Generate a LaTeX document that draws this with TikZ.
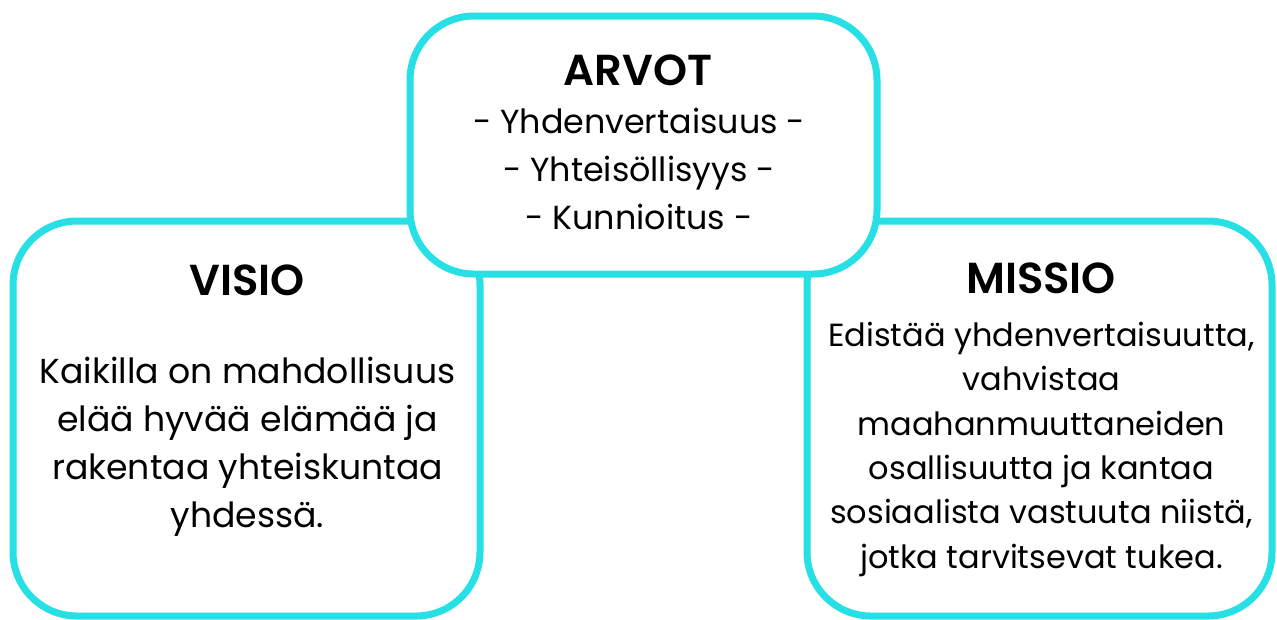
\documentclass[tikz,border=0pt]{standalone}
\usepackage{fontspec}
\setmainfont{Poppins}
\newfontfamily\titlefont{Poppins SemiBold}
\definecolor{boxcyan}{RGB}{38,224,230}
\tikzset{every picture/.style={line width=0.75pt}}
\tikzset{
  valuebox/.style={draw=boxcyan, line width=5.25pt, rounded corners=48pt, fill=white, inner sep=0pt},
  boxtitle/.style={font=\titlefont\fontsize{32.5}{36}\selectfont, inner sep=0pt},
  boxtext/.style={font=\fontsize{25}{36}\selectfont, align=center, inner sep=0pt}
}
\begin{document}
\begin{tikzpicture}[x=0.75pt,y=0.75pt,yscale=-1,xscale=1]
\useasboundingbox (0,0) rectangle (1277,619);

%Shape: Rounded Rect [id:visiobox]
\node [valuebox, minimum width=350.25pt, minimum height=296.25pt] (visiobox) at (246.5,418.5) {};
%Shape: Rounded Rect [id:missiobox]
\node [valuebox, minimum width=348.75pt, minimum height=296.25pt] (missiobox) at (1039.5,418.5) {};
%Shape: Rounded Rect [id:arvotbox]
\node [valuebox, minimum width=350.25pt, minimum height=193.5pt] (arvotbox) at (643.5,145) {};

% Text Node
\node [boxtitle, anchor=base] (arvot) at (638,85) {ARVOT};
% Text Node (anchored at the last line)
\node [boxtext, anchor=base] (arvotlist) at (639,229) {- Yhdenvertaisuus -\\ - Yhteisöllisyys -\\ - Kunnioitus -};
% Text Node
\node [boxtitle, anchor=base] (visio) at (247,295) {VISIO};
% Text Node
\node [boxtext, font=\fontsize{26}{35.8}\selectfont, anchor=base] (visiotext) at (247.5,527) {Kaikilla on mahdollisuus\\ elää hyvää elämää ja\\ rakentaa yhteiskuntaa\\ yhdessä.};
% Text Node
\node [boxtitle, anchor=base] (missio) at (1041,293) {MISSIO};
% Text Node
\node [boxtext, font=\fontsize{24}{33.2}\selectfont, anchor=base] (missiotext) at (1041.5,568) {Edistää yhdenvertaisuutta,\\ vahvistaa\\ maahanmuuttaneiden\\ osallisuutta ja kantaa\\ sosiaalista vastuuta niistä,\\ jotka tarvitsevat tukea.};

\end{tikzpicture}
\end{document}
